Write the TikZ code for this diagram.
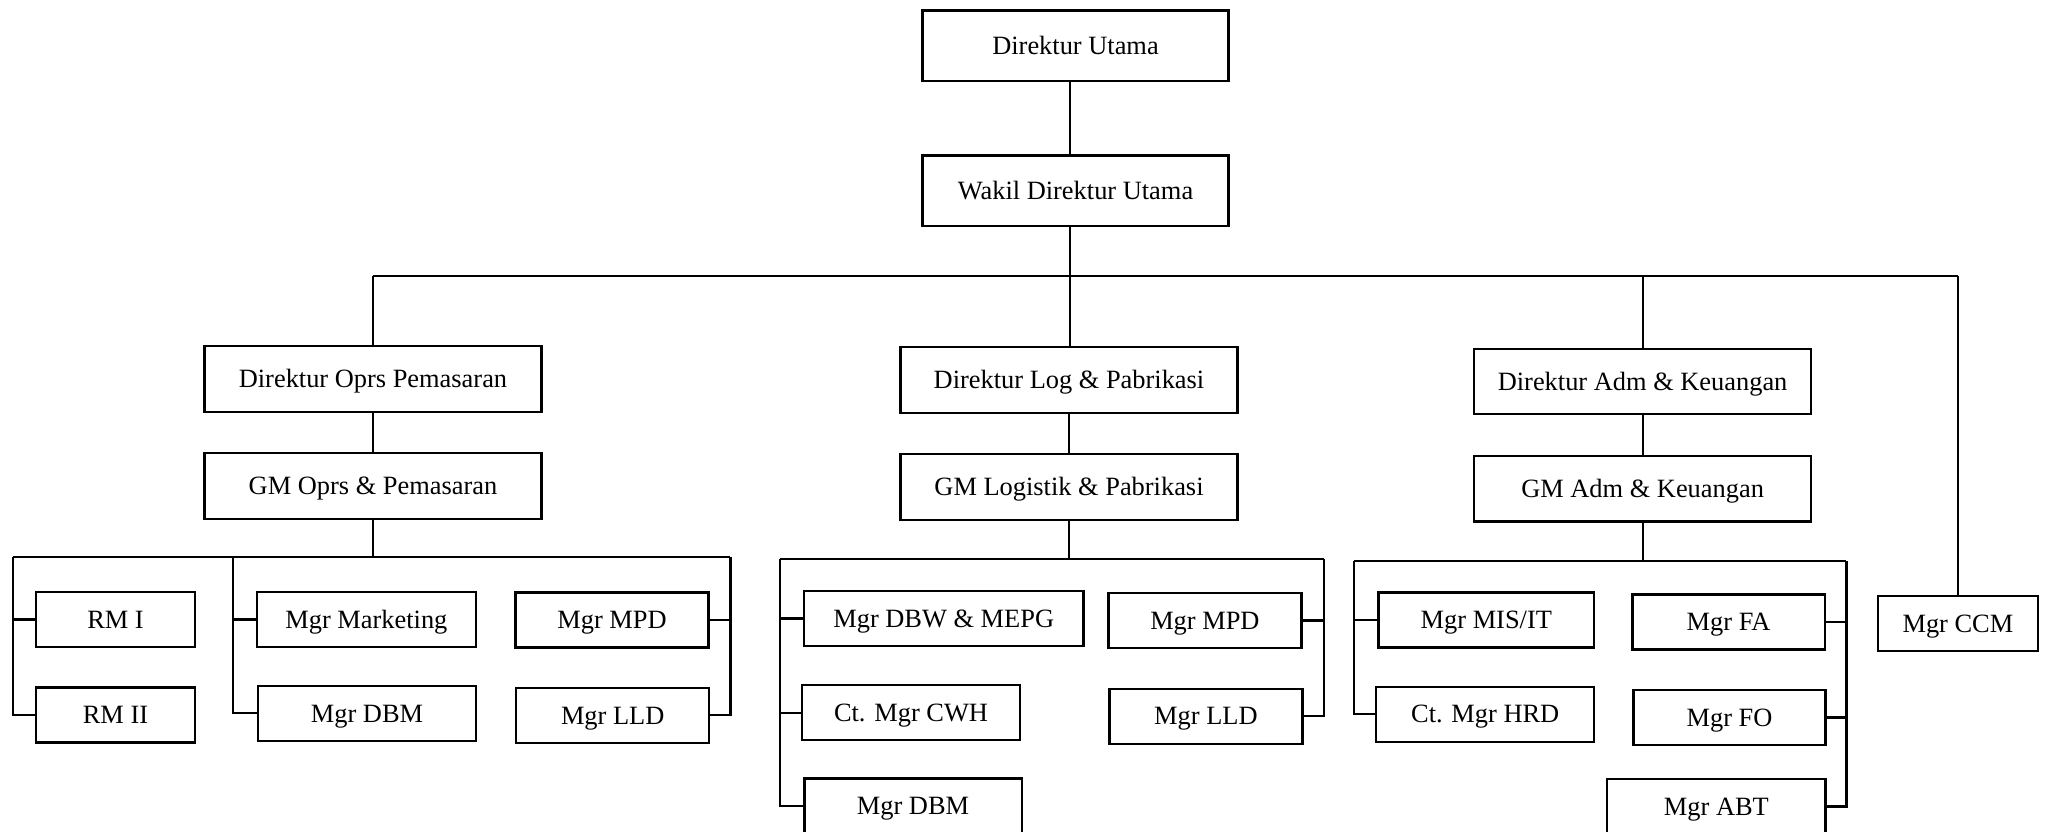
\documentclass[tikz,border=0pt]{standalone}
\usepackage{fontspec}
\setmainfont{Liberation Serif}
\usepackage{tikz}
\usetikzlibrary{positioning}

\begin{document}
\begin{tikzpicture}[
  x=0.5pt, y=-0.5pt,
  unit/.style={rectangle, draw, line width=1.2pt, minimum height=27.5pt, inner sep=2pt, text height=8.7pt, text depth=0pt, align=center, font=\fontsize{13.2}{15}\selectfont},
  head/.style={unit, minimum width=168.5pt, minimum height=32.75pt},
  link/.style={line width=1.1pt}
]
\path[use as bounding box, clip] (0,0) rectangle (2049,831);

% Top level
\node[head, minimum width=153pt, minimum height=35.25pt] (dirut) at (1075.5,45.8) {Direktur Utama};
\node[head, minimum width=153pt, minimum height=35.25pt] (wadir) at (1075.5,190.8) {Wakil Direktur Utama};

% Directors and GMs
\node[head] (dirops) at (373,379) {Direktur Oprs Pemasaran};
\node[head] (gmops) at (373,486) {GM Oprs \& Pemasaran};
\node[head] (dirlog) at (1069,380) {Direktur Log \& Pabrikasi};
\node[head] (gmlog) at (1069,487) {GM Logistik \& Pabrikasi};
\node[head] (diradm) at (1642.6,381.5) {Direktur Adm \& Keuangan};
\node[head] (gmadm) at (1642.6,488.7) {GM Adm \& Keuangan};

% Oprs & Pemasaran managers
\node[unit, minimum width=79.5pt] (rm1) at (115.5,619.5) {RM I};
\node[unit, minimum width=79.5pt] (rm2) at (115.5,715) {RM II};
\node[unit, minimum width=109.5pt] (mkt) at (366.4,619.5) {Mgr Marketing};
\node[unit, minimum width=109pt] (dbm1) at (367,713.3) {Mgr DBM};
\node[unit, minimum width=96.5pt] (mpd1) at (612,619.8) {Mgr MPD};
\node[unit, minimum width=96.5pt] (lld1) at (612.7,715.3) {Mgr LLD};

% Logistik & Pabrikasi managers
\node[unit, minimum width=139.7pt] (dbw) at (943.7,618.5) {Mgr DBW \& MEPG};
\node[unit, minimum width=109.25pt] (cwh) at (911,712.7) {Ct. Mgr CWH};
\node[unit, minimum width=108.7pt] (dbm2) at (913,805.8) {Mgr DBM};
\node[unit, minimum width=96.6pt] (mpd2) at (1204.9,620.5) {Mgr MPD};
\node[unit, minimum width=96.6pt] (lld2) at (1205.9,716.2) {Mgr LLD};

% Adm & Keuangan managers
\node[unit, minimum width=107.9pt] (mis) at (1486.3,619.8) {Mgr MIS/IT};
\node[unit, minimum width=109pt] (hrd) at (1485.2,714.2) {Ct. Mgr HRD};
\node[unit, minimum width=96.1pt] (fa) at (1728.6,622) {Mgr FA};
\node[unit, minimum width=96.1pt] (fo) at (1729.5,717.5) {Mgr FO};
\node[unit, minimum width=109.2pt] (abt) at (1716.4,806.5) {Mgr ABT};
\node[unit, minimum width=79.9pt] (ccm) at (1957.9,623.3) {Mgr CCM};

% bus lines
\coordinate (busT) at (1070,276);
\coordinate (opsL) at (12.9,557.3);
\coordinate (opsM) at (233,557.3);
\coordinate (opsR) at (730.4,557.3);
\coordinate (logL) at (780,559.3);
\coordinate (logR) at (1323.7,559.3);
\coordinate (admL) at (1353.6,560.7);
\coordinate (admR) at (1846.4,560.7);

% top connectors
\draw[link] (dirut.south -| busT) -- (wadir.north -| busT);
\draw[link] (wadir.south -| busT) -- (dirlog.north -| busT);
\draw[link] (dirops |- busT) -- (ccm |- busT);
\draw[link] (dirops) -- (dirops |- busT);
\draw[link] (diradm) -- (diradm |- busT);
\draw[link] (ccm) -- (ccm |- busT);
\draw[link] (dirops) -- (gmops);
\draw[link] (dirlog) -- (gmlog);
\draw[link] (diradm) -- (gmadm);

% Oprs & Pemasaran
\draw[link] (opsL) -- (opsR);
\draw[link] (gmops) -- (gmops |- opsL);
\draw[link] (rm1.west) -| (opsL);
\draw[link] (rm2.west) -| (opsL);
\draw[link] (mkt.west) -| (opsM);
\draw[link] (dbm1.west) -| (opsM);
\draw[link] (mpd1.east) -| (opsR);
\draw[link] (lld1.east) -| (opsR);

% Logistik & Pabrikasi
\draw[link] (logL) -- (logR);
\draw[link] (gmlog) -- (gmlog |- logL);
\draw[link] (dbw.west) -| (logL);
\draw[link] (cwh.west) -| (logL);
\draw[link] (dbm2.west) -| (logL);
\draw[link] (mpd2.east) -| (logR);
\draw[link] (lld2.east) -| (logR);

% Adm & Keuangan
\draw[link] (admL) -- (admR);
\draw[link] (gmadm) -- (gmadm |- admL);
\draw[link] (mis.west) -| (admL);
\draw[link] (hrd.west) -| (admL);
\draw[link] (fa.east) -| (admR);
\draw[link] (fo.east) -| (admR);
\draw[link] (abt.east) -| (admR);
\end{tikzpicture}
\end{document}
